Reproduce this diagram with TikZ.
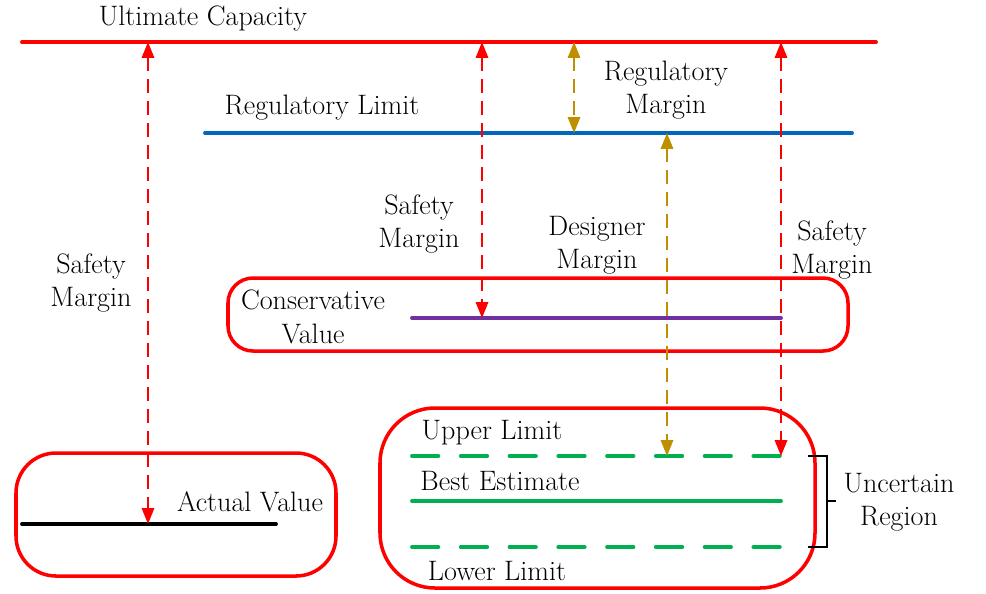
\documentclass[tikz,border=0pt]{standalone}
\usetikzlibrary{arrows.meta}
\definecolor{capred}{RGB}{255,0,0}
\definecolor{limblue}{RGB}{0,102,190}
\definecolor{margold}{RGB}{191,143,0}
\definecolor{conspurple}{RGB}{112,48,160}
\definecolor{estgreen}{RGB}{0,176,80}

\begin{document}
\begin{tikzpicture}[x=0.02cm,y=-0.02cm,
  lbl/.style={font=\fontsize{16}{19}\selectfont, align=center, inner sep=0pt},
  level/.style={line width=2.2pt, line cap=round},
  limit/.style={level, estgreen, dash pattern=on 15pt off 12.76pt},
  region/.style={draw=capred, line width=2pt},
  safety/.style={capred, line width=1.1pt, dash pattern=on 8pt off 4.5pt,
    {Triangle[width=7pt,length=9pt]}-{Triangle[width=7pt,length=9pt]}},
  design/.style={safety, margold}]
\useasboundingbox (0,0) rectangle (986,593);

% levels
\coordinate (uc-l) at (22,42);   \coordinate (uc-r) at (876,42);
\coordinate (rl-l) at (205,133); \coordinate (rl-r) at (852,133);
\coordinate (cv-l) at (412,318); \coordinate (cv-r) at (781,318);
\coordinate (av-l) at (22,524);  \coordinate (av-r) at (276,524);
\coordinate (ul-l) at (412,456); \coordinate (ul-r) at (781,456);
\coordinate (be-l) at (412,501); \coordinate (be-r) at (781,501);
\coordinate (ll-l) at (412,547); \coordinate (ll-r) at (781,547);

\draw[level, capred] (uc-l) -- (uc-r);
\draw[level, limblue] (rl-l) -- (rl-r);
\draw[level, conspurple] (cv-l) -- (cv-r);
\draw[level, black] (av-l) -- (av-r);
\draw[limit] (ul-l) -- (ul-r);
\draw[level, estgreen] (be-l) -- (be-r);
\draw[limit] (ll-l) -- (ll-r);

% regions
\draw[region, rounded corners=0.5cm] (228,278) rectangle (848,351);
\draw[region, rounded corners=0.8cm] (16,453) rectangle (336,576);
\draw[region, rounded corners=1.1cm] (380,408) rectangle (815,588);

% labels
\node[lbl] (ultcap) at (203,19) {Ultimate Capacity};
\node[lbl] (reglim) at (322,108) {Regulatory Limit};
\node[lbl] (regmar) at (666,90) {Regulatory\\Margin};
\node[lbl] (safe1) at (91,283) {Safety\\Margin};
\node[lbl] (safe2) at (419,224) {Safety\\Margin};
\node[lbl] (desmar) at (597,245) {Designer\\Margin};
\node[lbl] (safe3) at (832,250) {Safety\\Margin};
\node[lbl] (consval) at (313,317) {Conservative\\Value};
\node[lbl] (actval) at (250,502) {Actual Value};
\node[lbl] (upper) at (492,433) {Upper Limit};
\node[lbl] (best) at (500,481) {Best Estimate};
\node[lbl] (lower) at (497,571) {Lower Limit};
\node[lbl] (uncert) at (899,502) {Uncertain\\Region};

% margins
\coordinate (s1-t) at (148,42);  \coordinate (s1-b) at (148,524);
\coordinate (s2-t) at (482,42);  \coordinate (s2-b) at (482,318);
\coordinate (s3-t) at (781,42);  \coordinate (s3-b) at (781,456);
\coordinate (rm-t) at (574,42);  \coordinate (rm-b) at (574,133);
\coordinate (dm-t) at (667,133); \coordinate (dm-b) at (667,456);
\draw[safety] (s1-t) -- (s1-b);
\draw[safety] (s2-t) -- (s2-b);
\draw[safety] (s3-t) -- (s3-b);
\draw[design] (rm-t) -- (rm-b);
\draw[design] (dm-t) -- (dm-b);

% uncertain bracket
\coordinate (br-t) at (808,456); \coordinate (br-b) at (808,547);
\coordinate (br-m) at (827,501); \coordinate (br-tip) at (836,501);
\draw[line width=1pt] (br-t) -| (br-m) |- (br-b);
\draw[line width=1pt] (br-m) -- (br-tip);
\end{tikzpicture}
\end{document}
